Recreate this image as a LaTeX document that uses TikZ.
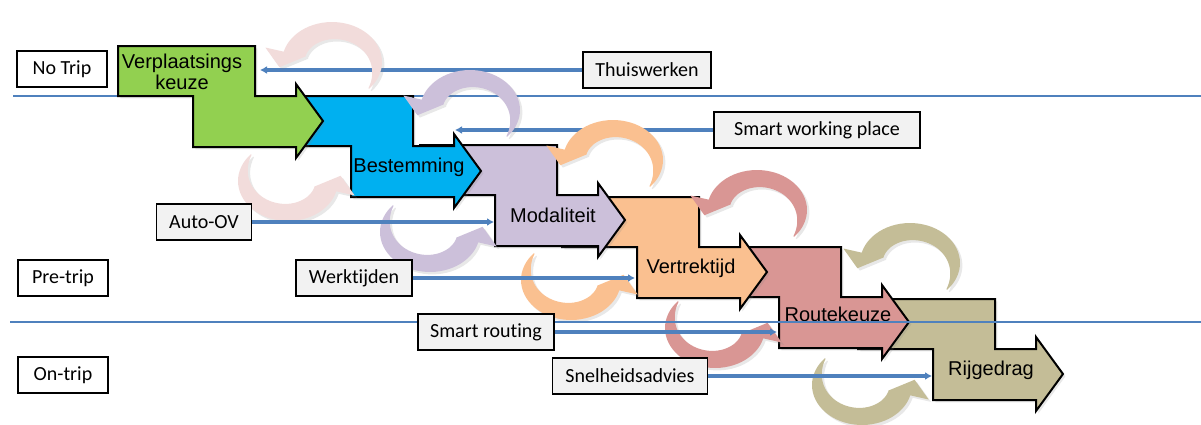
\documentclass[tikz,border=0pt]{standalone}
\usepackage{fontspec}
\setmainfont{Liberation Sans}
\newfontfamily\boxfont[Ligatures=NoCommon]{Carlito}
\usetikzlibrary{arrows.meta,shadows}
\definecolor{StepGreen}{HTML}{92D050}
\definecolor{StepBlue}{HTML}{00B0F0}
\definecolor{StepLilac}{HTML}{CCC0DA}
\definecolor{StepOrange}{HTML}{FAC090}
\definecolor{StepRose}{HTML}{D99694}
\definecolor{StepOlive}{HTML}{C4BD97}
\definecolor{CurlPink}{HTML}{F2DCDB}
\definecolor{LineBlue}{HTML}{4F81BD}
\definecolor{BoxGrey}{HTML}{F2F2F2}

\tikzset{
  softshadow/.style={drop shadow={opacity=0.18,shadow xshift=1.2pt,shadow yshift=-1.2pt}},
  stepshape/.style={draw=black,line width=1pt,line join=miter},
  steplabel/.style={font=\fontsize{10}{10.5}\selectfont,align=center,inner sep=0pt},
  stagebox/.style={draw=black,line width=0.8pt,fill=white,font=\boxfont\fontsize{10}{11}\selectfont,
    minimum width=45pt,minimum height=18pt,inner sep=0pt},
  measurebox/.style={draw=black,line width=0.8pt,fill=BoxGrey,font=\boxfont\fontsize{10}{11}\selectfont,
    minimum height=18pt,inner sep=0pt},
  feed/.style={draw=LineBlue,line width=1.6pt,-{Latex[length=3.5pt,width=4pt]}},
  phaseline/.style={draw=LineBlue,line width=0.6pt},
  declare function={curlk(\t)=0.55+0.43*(1-\t)*(1-\t)*(1-\t);}
}

% step arrow, #1,#2 = top left corner, #3 = colour
\newcommand{\StepArrow}[3]{%
  \filldraw[stepshape,softshadow,fill=#3] (#1,#2) -- ++(137,0) -- ++(0,50) -- ++(41,0) -- ++(0,-12)
    -- ++(27,37) -- ++(-27,37) -- ++(0,-11) -- ++(-103,0) -- ++(0,-51) -- ++(-75,0) -- cycle;}

% curled arrow, #1,#2 = centre, #3 = turn (0 above, 180 below), #4 = colour
\newcommand{\CurlArrow}[4]{%
  \pgfmathsetmacro{\curlA}{#3-42}
  \pgfmathsetmacro{\curlB}{#3+165}
  \pgfmathsetmacro{\curlC}{#3+187}
  \fill[softshadow,#4] plot[domain=\curlA:\curlB,samples=40] ({#1+50*cos(\x)},{#2-40*sin(\x)})
    -- ({#1+69*cos(\curlB)},{#2-56*sin(\curlB)})
    -- ({#1+53*cos(\curlC)},{#2-43*sin(\curlC)})
    -- ({#1+27*cos(\curlB)},{#2-22*sin(\curlB)})
    -- plot[domain=\curlB:\curlA,samples=40]
       ({#1+curlk((\x-\curlA)/207)*50*cos(\x)},{#2-curlk((\x-\curlA)/207)*40*sin(\x)})
    -- cycle;}

\begin{document}
\begin{tikzpicture}[x=0.5pt,y=-0.5pt]
\useasboundingbox (0,0) rectangle (1201,424);

\draw[phaseline] (13,96) -- (1201,96);

% steps, the last one first
\StepArrow{858}{299}{StepOlive}
\StepArrow{704}{247}{StepRose}
\StepArrow{562}{197}{StepOrange}
\StepArrow{420}{145}{StepLilac}
\StepArrow{276}{96}{StepBlue}
\StepArrow{118}{46}{StepGreen}

\node[steplabel] (keuze) at (182,72) {Verplaatsings\\keuze};
\node[steplabel] (bestem) at (409,167) {Bestemming};
\node[steplabel] (modal) at (553,215) {Modaliteit};
\node[steplabel] (vertrek) at (691,268) {Vertrektijd};
\node[steplabel] (route) at (838,314) {Routekeuze};
\node[steplabel] (rijge) at (991,370) {Rijgedrag};

% curls below the steps
\CurlArrow{288}{181}{180}{CurlPink}
\CurlArrow{430}{232}{180}{StepLilac}
\CurlArrow{571}{280}{180}{StepOrange}
\CurlArrow{715}{328}{180}{StepRose}
\CurlArrow{862}{385}{180}{StepOlive}

\draw[phaseline] (10,322) -- (1201,322);

\node[stagebox] (notrip) at (62,69) {No Trip};
\node[stagebox] (pretrip) at (63,278) {Pre-trip};
\node[stagebox] (ontrip) at (63,375) {On-trip};

\node[measurebox,minimum width=64pt] (thuis) at (647,70) {Thuiswerken};
\node[measurebox,minimum width=103pt] (swp) at (817,130) {Smart working place};
\node[measurebox,minimum width=47.5pt] (autoov) at (204,222) {Auto-OV};
\node[measurebox,minimum width=58pt] (werk) at (354,278) {Werktijden};
\node[measurebox,minimum width=68pt] (sroute) at (486,332) {Smart routing};
\node[measurebox,minimum width=77.5pt] (snel) at (630,376) {Snelheidsadvies};

\coordinate (keuze-in) at (260,70);
\coordinate (bestem-in) at (455,130);
\coordinate (modal-in) at (494,222);
\coordinate (vertrek-in) at (635,278);
\coordinate (route-in) at (777,332);
\coordinate (rijge-in) at (932,376);

\draw[feed] (thuis) -- (keuze-in);
\draw[feed] (swp) -- (bestem-in);
\draw[feed] (autoov) -- (modal-in);
\draw[feed] (werk) -- (vertrek-in);
\draw[feed] (sroute) -- (route-in);
\draw[feed] (snel) -- (rijge-in);

% curls above the steps
\CurlArrow{332}{62}{0}{CurlPink}
\CurlArrow{470}{110}{0}{StepLilac}
\CurlArrow{613}{160}{0}{StepOrange}
\CurlArrow{757}{210}{0}{StepRose}
\CurlArrow{910}{263}{0}{StepOlive}

\end{tikzpicture}
\end{document}
